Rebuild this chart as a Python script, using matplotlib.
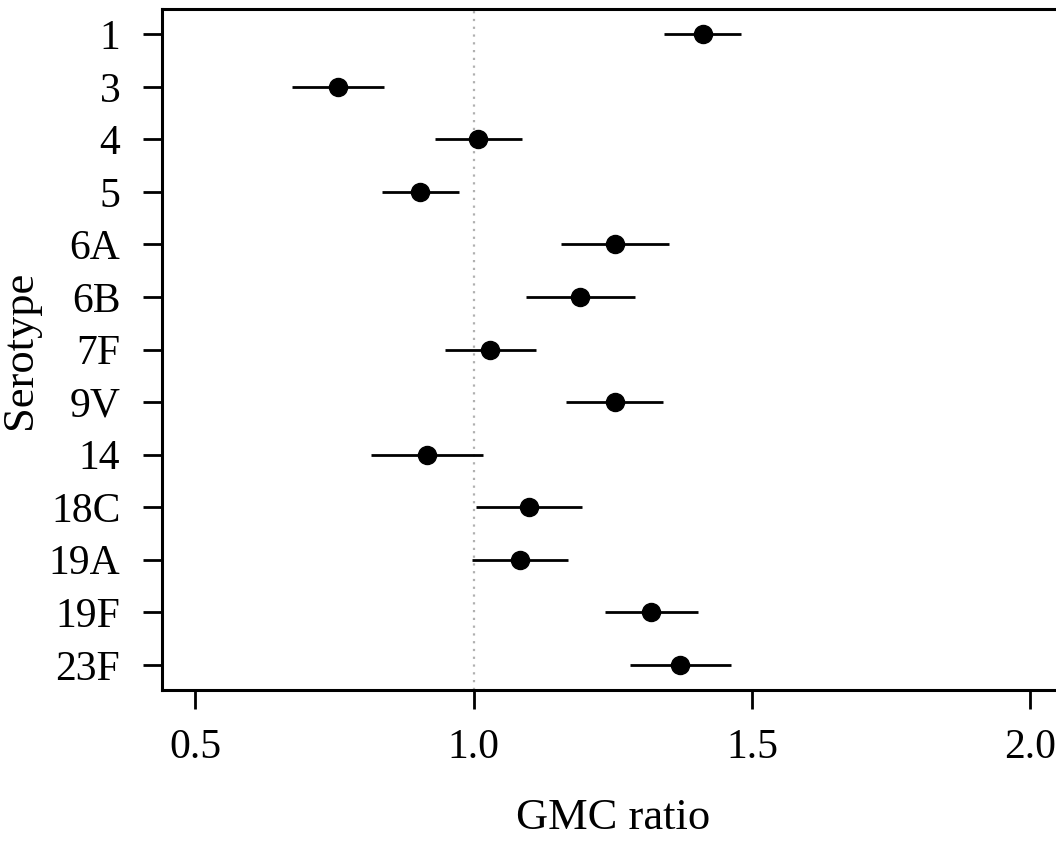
import matplotlib
matplotlib.use("Agg")
import matplotlib.pyplot as plt

# serotypes, top to bottom
serotypes = ["1", "3", "4", "5", "6A", "6B", "7F", "9V", "14", "18C", "19A", "19F", "23F"]
gmc_ratio = [1.412, 0.756, 1.008, 0.904, 1.254, 1.191, 1.029, 1.254, 0.916, 1.099, 1.084, 1.319, 1.371]
ci_low = [1.342, 0.674, 0.931, 0.835, 1.156, 1.093, 0.948, 1.166, 0.815, 1.004, 0.997, 1.235, 1.280]
ci_high = [1.481, 0.839, 1.086, 0.974, 1.351, 1.289, 1.111, 1.340, 1.017, 1.194, 1.170, 1.403, 1.463]
xticks = [0.5, 1.0, 1.5, 2.0]

plt.rcParams['font.family'] = ['Liberation Serif', 'DejaVu Serif']

fig = plt.figure(figsize=(10.56, 8.41), dpi=100)
ax = fig.add_axes([0.1534, 0.1795, 0.854, 0.8098])

ypos = list(range(1, len(serotypes) + 1))

ax.axvline(1.0, color='#b0b0b0', linestyle=(0, (1, 2.5)), linewidth=1.6, zorder=1)
ax.hlines(ypos, ci_low, ci_high, color='black', linewidth=2.0, zorder=2)
ax.plot(gmc_ratio, ypos, 'o', color='black', markersize=13, zorder=3)

ax.set_xlim(0.44, 2.06)
ax.set_ylim(13.48, 0.52)
ax.set_yticks(ypos)
ax.set_yticklabels(serotypes)
ax.set_xticks(xticks)
ax.set_xticklabels(['%.1f' % v for v in xticks])

for s in ax.spines.values():
    s.set_linewidth(2.2)
ax.tick_params(axis='both', length=14, width=2.0, labelsize=30)
ax.tick_params(axis='y', pad=16)
ax.tick_params(axis='x', pad=14)

ax.set_xlabel('GMC ratio', fontsize=32, labelpad=22)
ax.set_ylabel('Serotype', fontsize=32, labelpad=6)

fig.savefig('out.png', dpi=100)
